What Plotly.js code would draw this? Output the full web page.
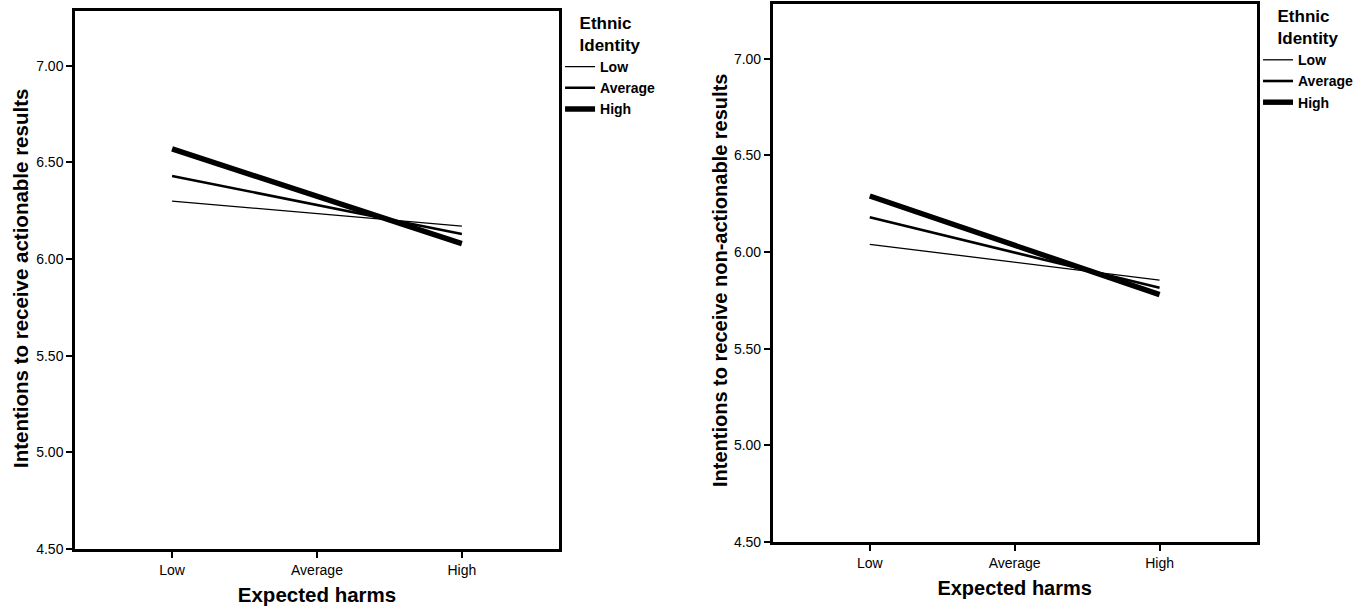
<!DOCTYPE html>
<html>
<head>
<meta charset="utf-8">
<script src="https://cdn.plot.ly/plotly-3.0.1.min.js"></script>
<style>html,body{margin:0;padding:0;background:#fff;}#chart{width:1371px;height:614px;}</style>
</head>
<body>
<div id="chart"></div>
<script>
// ---- data ----
const harmCategories = ["Low", "Average", "High"];
const plottedLevels = ["Low", "High"];
const identityLevels = ["Low", "Average", "High"];
const actionableLow = [6.30, 6.17];
const actionableAverage = [6.43, 6.13];
const actionableHigh = [6.57, 6.08];
const nonActionableLow = [6.04, 5.855];
const nonActionableAverage = [6.18, 5.815];
const nonActionableHigh = [6.29, 5.78];
const yTickVals = [4.5, 5.0, 5.5, 6.0, 6.5, 7.0];
const leftYTitle = "Intentions to receive actionable results";
const rightYTitle = "Intentions to receive non-actionable results";
const xTitle = "Expected harms";
const legendTitle = "Ethnic<br>Identity";

// ---- styles ----
const FONT = "Liberation Sans, Arial, Helvetica, sans-serif";
const widths = [1.3, 2.6, 5.4];

function mk(y, i, xa, ya, leg) {
  return {
    x: plottedLevels, y: y, name: identityLevels[i], type: "scatter", mode: "lines",
    xaxis: xa, yaxis: ya, legend: leg,
    line: {color: "#000", width: widths[i]}, hoverinfo: "x+y+name"
  };
}
const traces = [
  mk(actionableLow, 0, "x", "y", "legend"),
  mk(actionableAverage, 1, "x", "y", "legend"),
  mk(actionableHigh, 2, "x", "y", "legend"),
  mk(nonActionableLow, 0, "x2", "y2", "legend2"),
  mk(nonActionableAverage, 1, "x2", "y2", "legend2"),
  mk(nonActionableHigh, 2, "x2", "y2", "legend2")
];

function xaxis(domain, anchor, tsize) {
  return {
    domain: domain, anchor: anchor, type: "category",
    categoryorder: "array", categoryarray: harmCategories,
    range: [-0.67, 2.67], showgrid: false, zeroline: false,
    showline: true, mirror: true, linecolor: "#000", linewidth: 2.5,
    ticks: "outside", ticklen: 6, tickwidth: 2, tickcolor: "#000",
    tickfont: {family: FONT, size: 14, color: "#000"},
    title: {text: xTitle, standoff: 12, font: {family: FONT, size: tsize, weight: "bold", color: "#000"}},
    automargin: false, fixedrange: true
  };
}
function yaxis(domain, anchor, range) {
  return {
    domain: domain, anchor: anchor, range: range,
    tickvals: yTickVals, tickformat: ".2f",
    showgrid: false, zeroline: false,
    showline: true, mirror: true, linecolor: "#000", linewidth: 2.5,
    ticks: "outside", ticklen: 6, tickwidth: 2, tickcolor: "#000",
    tickfont: {family: FONT, size: 14, color: "#000"},
    automargin: false, fixedrange: true
  };
}
function legend(x, y) {
  return {
    x: x, y: y, xanchor: "left", yanchor: "top", xref: "paper", yref: "paper",
    bgcolor: "rgba(0,0,0,0)", borderwidth: 0, tracegroupgap: 0,
    font: {family: FONT, size: 14, weight: "bold", color: "#000"},
    title: {text: legendTitle, side: "top center", font: {family: FONT, size: 17, weight: "bold", color: "#000"}}
  };
}

const layout = {
  width: 1371, height: 614,
  margin: {l: 0, r: 0, t: 0, b: 0},
  paper_bgcolor: "#fff", plot_bgcolor: "#fff",
  showlegend: true,
  xaxis: xaxis([0.0547, 0.4077], "y", 20.5),
  yaxis: yaxis([0.1059, 0.982], "x", [4.5, 7.283]),
  xaxis2: xaxis([0.5636, 0.9166], "y2", 20),
  yaxis2: yaxis([0.1173, 0.994], "x2", [4.5, 7.285]),
  legend: legend(0.4085, 0.989),
  legend2: legend(0.9176, 1.0),
  annotations: [
    {text: leftYTitle, xref: "paper", yref: "paper", x: 20 / 1371, y: (614 - 279) / 614,
     textangle: -90, showarrow: false, xanchor: "center", yanchor: "middle",
     font: {family: FONT, size: 20.5, weight: "bold", color: "#000"}},
    {text: rightYTitle, xref: "paper", yref: "paper", x: 720 / 1371, y: (614 - 280) / 614,
     textangle: -90, showarrow: false, xanchor: "center", yanchor: "middle",
     font: {family: FONT, size: 20, weight: "bold", color: "#000"}}
  ]
};

Plotly.newPlot("chart", traces, layout, {displayModeBar: false});
</script>
</body>
</html>
